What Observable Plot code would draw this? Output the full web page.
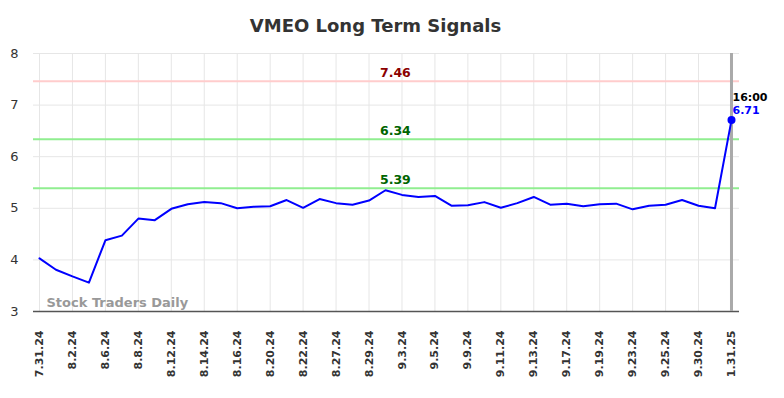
<!DOCTYPE html>
<html>
<head>
<meta charset="utf-8">
<script src="https://cdn.jsdelivr.net/npm/d3@7"></script>
<script src="https://cdn.jsdelivr.net/npm/@observablehq/plot@0.6"></script>
<style>
  html, body { margin: 0; padding: 0; background: white; }
</style>
</head>
<body>
<div id="chart"></div>
<script>
const title = "VMEO Long Term Signals";
const dates = [
  "7.31.24","8.1.24","8.2.24","8.5.24","8.6.24","8.7.24","8.8.24","8.9.24",
  "8.12.24","8.13.24","8.14.24","8.15.24","8.16.24","8.19.24","8.20.24","8.21.24",
  "8.22.24","8.23.24","8.27.24","8.28.24","8.29.24","8.30.24","9.3.24","9.4.24",
  "9.5.24","9.6.24","9.9.24","9.10.24","9.11.24","9.12.24","9.13.24","9.16.24",
  "9.17.24","9.18.24","9.19.24","9.20.24","9.23.24","9.24.24","9.25.24","9.26.24",
  "9.30.24","10.1.24","1.31.25"
];
const values = [
  4.03, 3.81, 3.68, 3.56, 4.38, 4.47, 4.80, 4.77,
  4.99, 5.08, 5.12, 5.10, 5.00, 5.03, 5.04, 5.16,
  5.01, 5.18, 5.10, 5.07, 5.15, 5.35, 5.26, 5.22,
  5.24, 5.05, 5.06, 5.12, 5.01, 5.10, 5.22, 5.07,
  5.09, 5.04, 5.08, 5.09, 4.98, 5.05, 5.07, 5.16,
  5.05, 5.00, 6.71
];
const levelValues = [7.46, 6.34, 5.39];
const levelLineColors = ["#ffcccc", "#90ee90", "#90ee90"];
const levelTextColors = ["#8b0000", "#006400", "#006400"];
const yTicks = [3, 4, 5, 6, 7, 8];
const lastTime = "16:00";
const watermark = "Stock Traders Daily";

const series = values.map((v, i) => ({i, v, date: dates[i]}));
const levels = levelValues.map((v, k) => ({v, line: levelLineColors[k], text: levelTextColors[k]}));
const xTicks = dates.map((d, i) => i).filter(i => i % 2 === 0);
const last = series[series.length - 1];
const mid = (series.length - 1) / 2 + 0.6;

const chart = Plot.plot({
  width: 784,
  height: 398,
  marginLeft: 33,
  marginRight: 45,
  marginTop: 53,
  marginBottom: 87,
  style: {fontFamily: "DejaVu Sans", background: "white", overflow: "visible"},
  x: {domain: [-0.364, 42.486]},
  y: {domain: [3, 8]},
  marks: [
    Plot.gridY(yTicks, {stroke: "#e6e6e6", strokeOpacity: 1}),
    Plot.gridX(xTicks, {stroke: "#e6e6e6", strokeOpacity: 1}),
    Plot.ruleY(levels, {y: "v", stroke: "line", strokeWidth: 2}),
    Plot.axisY({ticks: yTicks, tickFormat: d => String(d), tickSize: 0, tickPadding: 15, fontSize: 13, fill: "#333", label: null}),
    Plot.axisX({ticks: xTicks, tickFormat: i => dates[i], tickRotate: -90, tickSize: 0, tickPadding: 19,
      fontSize: 11, fontWeight: "bold", fill: "#333", label: null}),
    Plot.ruleY([3], {stroke: "#555", strokeWidth: 1.5}),
    Plot.ruleX([last.i], {stroke: "#aaa", strokeWidth: 3}),
    Plot.line(series, {x: "i", y: "v", stroke: "blue", strokeWidth: 2}),
    Plot.dot([last], {x: "i", y: "v", r: 4, fill: "blue"}),
    Plot.text(levels, {x: () => mid, y: "v", text: d => d.v.toFixed(2), fill: "text",
      fontSize: 12.5, fontWeight: "bold", dy: -8, lineAnchor: "middle"}),
    Plot.text([last], {x: "i", y: "v", text: () => lastTime, fill: "black", fontSize: 11,
      fontWeight: "bold", textAnchor: "start", dx: 1, dy: -23, lineAnchor: "middle"}),
    Plot.text([last], {x: "i", y: "v", text: d => d.v.toFixed(2), fill: "blue", fontSize: 11,
      fontWeight: "bold", textAnchor: "start", dx: 1, dy: -10, lineAnchor: "middle"}),
    Plot.text([watermark], {frameAnchor: "bottom-left", text: d => d, dx: 13, dy: -9,
      fontSize: 13, fontWeight: "bold", fill: "#999", lineAnchor: "middle", textAnchor: "start"}),
    Plot.text([title], {frameAnchor: "top", text: d => d, dx: -11, dy: -27, fontSize: 18,
      fontWeight: "bold", fill: "#333", lineAnchor: "middle"})
  ]
});
document.getElementById("chart").appendChild(chart);
</script>
</body>
</html>
